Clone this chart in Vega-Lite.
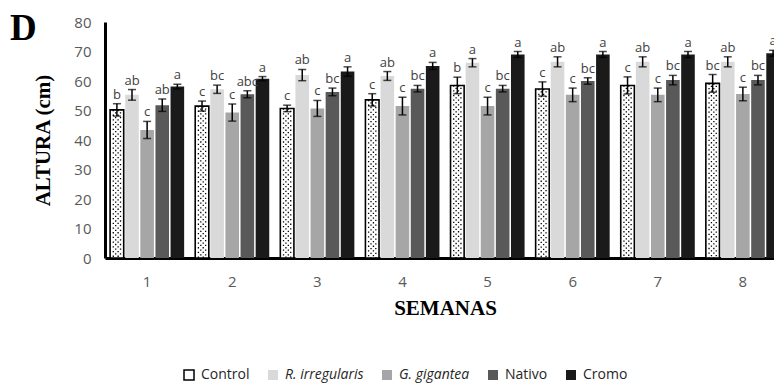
{
  "$schema": "https://vega.github.io/schema/vega-lite/v6.json",
  "autosize": {"type": "none"},
  "padding": {"left": 105, "top": 22, "right": 0, "bottom": 128},
  "width": 680,
  "height": 236,
  "title": {"text": "D", "anchor": "start", "frame": "group", "font": "Liberation Serif", "fontSize": 37, "fontWeight": "bold", "color": "#000000", "dx": -95, "dy": 62, "offset": 0, "baseline": "alphabetic"},
  "config": {
    "view": {"stroke": null},
    "font": "Open Sans",
    "legend": {"orient": "none", "legendX": 77, "legendY": 346, "direction": "horizontal", "columns": 5, "symbolType": "square", "symbolSize": 100, "symbolStrokeWidth": 0, "labelFont": "Open Sans", "labelFontSize": 14, "labelColor": "#262626", "columnPadding": 15, "labelOffset": 5, "titleFontSize": 0, "padding": 0}
  },
  "data": {"values": [
    {"week": "1", "trt": "Control", "mean": 50.2, "lo": 48.1, "hi": 52.3, "letter": "b"},
    {"week": "1", "trt": "R. irregularis", "mean": 55.3, "lo": 53.5, "hi": 57.1, "letter": "ab"},
    {"week": "1", "trt": "G. gigantea", "mean": 43.4, "lo": 40.5, "hi": 46.3, "letter": "c"},
    {"week": "1", "trt": "Nativo", "mean": 51.8, "lo": 49.7, "hi": 53.9, "letter": "ab"},
    {"week": "1", "trt": "Cromo", "mean": 58.1, "lo": 57.3, "hi": 58.9, "letter": "a"},
    {"week": "2", "trt": "Control", "mean": 51.5, "lo": 49.8, "hi": 53.2, "letter": "c"},
    {"week": "2", "trt": "R. irregularis", "mean": 57.2, "lo": 55.8, "hi": 58.6, "letter": "bc"},
    {"week": "2", "trt": "G. gigantea", "mean": 49.3, "lo": 46.4, "hi": 52.2, "letter": "c"},
    {"week": "2", "trt": "Nativo", "mean": 55.5, "lo": 54.3, "hi": 56.7, "letter": "abc"},
    {"week": "2", "trt": "Cromo", "mean": 60.8, "lo": 60.1, "hi": 61.5, "letter": "a"},
    {"week": "3", "trt": "Control", "mean": 50.7, "lo": 49.6, "hi": 51.8, "letter": "c"},
    {"week": "3", "trt": "R. irregularis", "mean": 62.0, "lo": 60.1, "hi": 63.9, "letter": "ab"},
    {"week": "3", "trt": "G. gigantea", "mean": 50.7, "lo": 48.0, "hi": 53.4, "letter": "c"},
    {"week": "3", "trt": "Nativo", "mean": 56.3, "lo": 55.0, "hi": 57.6, "letter": "bc"},
    {"week": "3", "trt": "Cromo", "mean": 63.2, "lo": 61.6, "hi": 64.8, "letter": "a"},
    {"week": "4", "trt": "Control", "mean": 53.6, "lo": 51.5, "hi": 55.7, "letter": "c"},
    {"week": "4", "trt": "R. irregularis", "mean": 61.7, "lo": 60.2, "hi": 63.2, "letter": "ab"},
    {"week": "4", "trt": "G. gigantea", "mean": 51.5, "lo": 48.5, "hi": 54.5, "letter": "c"},
    {"week": "4", "trt": "Nativo", "mean": 57.4, "lo": 56.3, "hi": 58.5, "letter": "bc"},
    {"week": "4", "trt": "Cromo", "mean": 65.1, "lo": 63.9, "hi": 66.3, "letter": "a"},
    {"week": "5", "trt": "Control", "mean": 58.5, "lo": 55.7, "hi": 61.3, "letter": "b"},
    {"week": "5", "trt": "R. irregularis", "mean": 66.2, "lo": 64.8, "hi": 67.6, "letter": "a"},
    {"week": "5", "trt": "G. gigantea", "mean": 51.5, "lo": 48.5, "hi": 54.5, "letter": "c"},
    {"week": "5", "trt": "Nativo", "mean": 57.4, "lo": 56.3, "hi": 58.5, "letter": "bc"},
    {"week": "5", "trt": "Cromo", "mean": 69.0, "lo": 68.0, "hi": 70.0, "letter": "a"},
    {"week": "6", "trt": "Control", "mean": 57.3, "lo": 54.9, "hi": 59.7, "letter": "c"},
    {"week": "6", "trt": "R. irregularis", "mean": 66.5, "lo": 64.8, "hi": 68.2, "letter": "ab"},
    {"week": "6", "trt": "G. gigantea", "mean": 55.3, "lo": 53.0, "hi": 57.6, "letter": "c"},
    {"week": "6", "trt": "Nativo", "mean": 60.0, "lo": 58.9, "hi": 61.1, "letter": "bc"},
    {"week": "6", "trt": "Cromo", "mean": 69.0, "lo": 68.0, "hi": 70.0, "letter": "a"},
    {"week": "7", "trt": "Control", "mean": 58.5, "lo": 55.6, "hi": 61.4, "letter": "c"},
    {"week": "7", "trt": "R. irregularis", "mean": 66.5, "lo": 64.8, "hi": 68.2, "letter": "ab"},
    {"week": "7", "trt": "G. gigantea", "mean": 55.3, "lo": 53.0, "hi": 57.6, "letter": "c"},
    {"week": "7", "trt": "Nativo", "mean": 60.3, "lo": 58.7, "hi": 61.9, "letter": "bc"},
    {"week": "7", "trt": "Cromo", "mean": 69.0, "lo": 68.0, "hi": 70.0, "letter": "a"},
    {"week": "8", "trt": "Control", "mean": 59.2, "lo": 56.2, "hi": 62.2, "letter": "bc"},
    {"week": "8", "trt": "R. irregularis", "mean": 66.5, "lo": 64.8, "hi": 68.2, "letter": "ab"},
    {"week": "8", "trt": "G. gigantea", "mean": 55.6, "lo": 53.3, "hi": 57.9, "letter": "c"},
    {"week": "8", "trt": "Nativo", "mean": 60.3, "lo": 58.7, "hi": 61.9, "letter": "bc"},
    {"week": "8", "trt": "Cromo", "mean": 69.4, "lo": 68.4, "hi": 70.4, "letter": "a"}
  ]},
  "layer": [
    {
      "layer": [
        {
          "mark": {"type": "bar"},
          "encoding": {
            "x": {"field": "week", "type": "nominal", "scale": {"paddingInner": 0.13, "paddingOuter": 0.06},
              "axis": {"title": "SEMANAS", "labelAngle": 0, "ticks": false, "tickSize": 0, "labelPadding": 16, "labelFont": "Open Sans", "labelFontSize": 15, "labelColor": "#595959", "domainColor": "#000000", "domainWidth": 3, "titleFont": "Liberation Serif", "titleFontSize": 21, "titleFontWeight": "bold", "titleColor": "#000000", "titlePadding": 8}},
            "xOffset": {"field": "trt", "type": "nominal", "sort": ["Control", "R. irregularis", "G. gigantea", "Nativo", "Cromo"], "scale": {"paddingInner": 0.1, "paddingOuter": 0}},
            "y": {"field": "mean", "type": "quantitative", "scale": {"domain": [0, 80], "nice": false, "zero": true},
              "axis": {"title": "ALTURA (cm)", "orient": "left", "values": [0, 10, 20, 30, 40, 50, 60, 70, 80], "labelOverlap": false, "grid": false, "ticks": false, "tickSize": 0, "labelPadding": 14, "labelFont": "Open Sans", "labelFontSize": 15, "labelColor": "#595959", "domainColor": "#000000", "domainWidth": 3, "titleFont": "Liberation Serif", "titleFontSize": 21, "titleFontWeight": "bold", "titleColor": "#000000", "titlePadding": 20}},
            "color": {"field": "trt", "type": "nominal", "title": null,
              "scale": {"domain": ["Control", "R. irregularis", "G. gigantea", "Nativo", "Cromo"], "range": ["#ffffff", "#d9d9d9", "#a6a6a6", "#595959", "#1a1a1a"]},
              "legend": {"encode": {
                "labels": {"update": {"fontStyle": {"signal": "datum.label == 'R. irregularis' || datum.label == 'G. gigantea' ? 'italic' : 'normal'"}}},
                "symbols": {"update": {"stroke": {"signal": "datum.label == 'Control' ? '#000000' : 'transparent'"}, "strokeWidth": {"value": 1.5}}}
              }}}
          }
        },
        {
          "transform": [{"filter": "datum.trt == 'Control'"}],
          "mark": {"type": "rule", "color": "#000000", "strokeWidth": 1.3, "strokeDash": [1.3, 3.4], "strokeDashOffset": 0},
          "encoding": {"x": {"field": "week", "type": "nominal", "bandPosition": 0.043}, "y": {"field": "mean", "type": "quantitative"}, "y2": {"datum": 0}}
        },
        {
          "transform": [{"filter": "datum.trt == 'Control'"}],
          "mark": {"type": "rule", "color": "#000000", "strokeWidth": 1.3, "strokeDash": [1.3, 3.4], "strokeDashOffset": 2.35},
          "encoding": {"x": {"field": "week", "type": "nominal", "bandPosition": 0.0755}, "y": {"field": "mean", "type": "quantitative"}, "y2": {"datum": 0}}
        },
        {
          "transform": [{"filter": "datum.trt == 'Control'"}],
          "mark": {"type": "rule", "color": "#000000", "strokeWidth": 1.3, "strokeDash": [1.3, 3.4], "strokeDashOffset": 0},
          "encoding": {"x": {"field": "week", "type": "nominal", "bandPosition": 0.108}, "y": {"field": "mean", "type": "quantitative"}, "y2": {"datum": 0}}
        },
        {
          "transform": [{"filter": "datum.trt == 'Control'"}],
          "mark": {"type": "rule", "color": "#000000", "strokeWidth": 1.3, "strokeDash": [1.3, 3.4], "strokeDashOffset": 2.35},
          "encoding": {"x": {"field": "week", "type": "nominal", "bandPosition": 0.1405}, "y": {"field": "mean", "type": "quantitative"}, "y2": {"datum": 0}}
        },
        {
          "transform": [{"filter": "datum.trt == 'Control'"}],
          "mark": {"type": "bar", "fill": "transparent", "stroke": "#000000", "strokeWidth": 1.6},
          "encoding": {"x": {"field": "week", "type": "nominal"}, "xOffset": {"field": "trt", "type": "nominal", "sort": ["Control", "R. irregularis", "G. gigantea", "Nativo", "Cromo"]}, "y": {"field": "mean", "type": "quantitative"}}
        },
        {
          "mark": {"type": "rule", "color": "#000000", "strokeWidth": 1.5},
          "encoding": {"x": {"field": "week", "type": "nominal"}, "xOffset": {"field": "trt", "type": "nominal", "sort": ["Control", "R. irregularis", "G. gigantea", "Nativo", "Cromo"]}, "y": {"field": "lo", "type": "quantitative"}, "y2": {"field": "hi"}}
        },
        {
          "mark": {"type": "tick", "color": "#000000", "size": 8, "thickness": 1.5, "orient": "horizontal"},
          "encoding": {"x": {"field": "week", "type": "nominal"}, "xOffset": {"field": "trt", "type": "nominal", "sort": ["Control", "R. irregularis", "G. gigantea", "Nativo", "Cromo"]}, "y": {"field": "lo", "type": "quantitative"}}
        },
        {
          "mark": {"type": "tick", "color": "#000000", "size": 8, "thickness": 1.5, "orient": "horizontal"},
          "encoding": {"x": {"field": "week", "type": "nominal"}, "xOffset": {"field": "trt", "type": "nominal", "sort": ["Control", "R. irregularis", "G. gigantea", "Nativo", "Cromo"]}, "y": {"field": "hi", "type": "quantitative"}}
        },
        {
          "mark": {"type": "text", "font": "Open Sans", "fontSize": 13, "color": "#404040", "baseline": "alphabetic", "dy": -5},
          "encoding": {"x": {"field": "week", "type": "nominal"}, "xOffset": {"field": "trt", "type": "nominal", "sort": ["Control", "R. irregularis", "G. gigantea", "Nativo", "Cromo"]}, "y": {"field": "hi", "type": "quantitative"}, "text": {"field": "letter"}}
        }
      ]
    },
    {
      "mark": {"type": "tick", "opacity": 0},
      "encoding": {
        "y": {"field": "mean", "type": "quantitative", "scale": {"domain": [0, 80], "nice": false, "zero": true},
          "axis": {"title": null, "orient": "left", "values": [10, 30, 50, 70], "labelOverlap": false, "grid": false, "ticks": false, "tickSize": 0, "domain": false, "labelPadding": 14, "labelFont": "Open Sans", "labelFontSize": 15, "labelColor": "#595959"}}
      }
    }
  ],
  "resolve": {"scale": {"y": "independent"}, "axis": {"y": "independent"}}
}
